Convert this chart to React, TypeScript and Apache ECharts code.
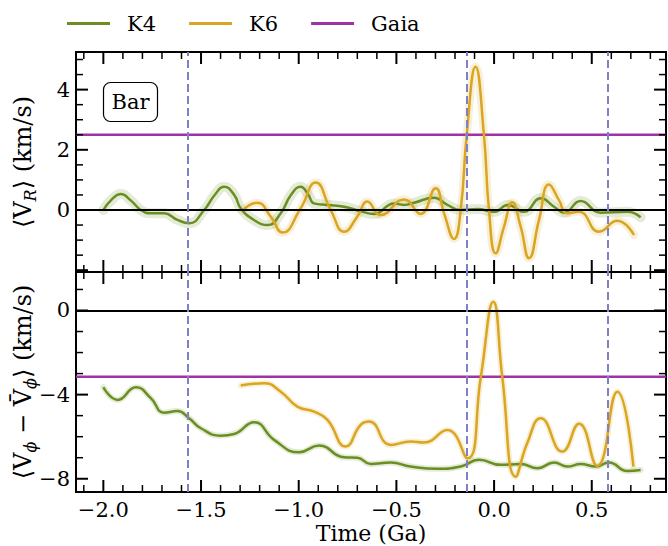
import React, { useEffect, useRef } from "react";
import * as echarts from "echarts";

const FONT = "DejaVu Serif";

const X_MIN = -2.14;
const X_MAX = 0.88;
const Y1_MIN = -2.06;
const Y1_MAX = 5.25;
const Y2_MIN = -8.63;
const Y2_MAX = 1.83;

const X_MAJOR = [-2.0, -1.5, -1.0, -0.5, 0.0, 0.5];
const X_MINOR = [-2.1, -1.9, -1.8, -1.7, -1.6, -1.4, -1.3, -1.2, -1.1, -0.9, -0.8, -0.7, -0.6, -0.4, -0.3, -0.2, -0.1, 0.1, 0.2, 0.3, 0.4, 0.6, 0.7, 0.8];
const Y1_MAJOR = [-2, 0, 2, 4];
const Y1_MINOR = [-1.5, -1, -0.5, 0.5, 1, 1.5, 2.5, 3, 3.5, 4.5, 5];
const Y1_LABELS = [0, 2, 4];
const Y2_MAJOR = [-8, -4, 0];
const Y2_MINOR = [-7, -6, -5, -3, -2, -1, 1];
const Y2_LABELS = [-8, -4, 0];

const GAIA_VR = 2.5;
const GAIA_VPHI = -3.15;
const BAR_EVENTS = [-1.57, -0.145, 0.577];

const K4_VR: [number, number][] = [
  [-2.0, 0.0], [-1.96, 0.33], [-1.91, 0.53], [-1.86, 0.32], [-1.808, 0.0], [-1.757, -0.11],
  [-1.689, -0.11], [-1.621, -0.33], [-1.561, -0.44], [-1.484, 0.0], [-1.43, 0.5], [-1.382, 0.77],
  [-1.33, 0.5], [-1.297, 0.06], [-1.229, -0.33], [-1.16, -0.5], [-1.092, -0.11], [-1.04, 0.5],
  [-0.99, 0.77], [-0.95, 0.5], [-0.922, 0.22], [-0.853, 0.17], [-0.768, 0.11], [-0.683, -0.04],
  [-0.615, -0.13], [-0.512, 0.22], [-0.461, 0.17], [-0.41, 0.24], [-0.307, 0.41], [-0.239, 0.17],
  [-0.171, 0.0], [-0.085, 0.03], [0.0, -0.06], [0.07, 0.17], [0.153, -0.06], [0.239, 0.39],
  [0.307, 0.11], [0.358, -0.09], [0.443, 0.3], [0.545, -0.09], [0.682, -0.06], [0.75, -0.24],
];

const K6_VR: [number, number][] = [
  [-1.288, -0.02], [-1.212, 0.24], [-1.143, -0.22], [-1.083, -0.75], [-0.99, 0.06], [-0.913, 0.91],
  [-0.836, 0.0], [-0.768, -0.72], [-0.7, -0.22], [-0.649, 0.28], [-0.581, -0.17], [-0.461, 0.35],
  [-0.376, -0.13], [-0.299, 0.72], [-0.256, -0.11], [-0.205, -0.96], [-0.171, 0.0], [-0.14, 2.5],
  [-0.095, 4.76], [-0.052, 2.5], [-0.026, 0.0], [0.008, -1.44], [0.051, -0.55], [0.093, 0.26],
  [0.136, -0.55], [0.179, -1.6], [0.23, -0.33], [0.281, 0.85], [0.332, 0.33], [0.375, -0.11],
  [0.435, -0.06], [0.537, -0.72], [0.631, -0.36], [0.716, -0.83],
];

const K4_VPHI: [number, number][] = [
  [-2.0, -3.65], [-1.927, -4.25], [-1.833, -3.65], [-1.757, -4.17], [-1.689, -4.86], [-1.621, -4.78],
  [-1.561, -5.12], [-1.501, -5.6], [-1.399, -5.95], [-1.331, -5.87], [-1.228, -5.31], [-1.126, -6.15],
  [-0.998, -6.74], [-0.896, -6.42], [-0.768, -6.98], [-0.7, -7.0], [-0.632, -7.3], [-0.529, -7.23],
  [-0.427, -7.42], [-0.29, -7.53], [-0.171, -7.42], [-0.077, -7.1], [0.034, -7.34], [0.136, -7.3],
  [0.222, -7.5], [0.307, -7.23], [0.375, -7.42], [0.443, -7.3], [0.52, -7.42], [0.588, -7.23],
  [0.682, -7.63], [0.75, -7.58],
];

const K6_VPHI: [number, number][] = [
  [-1.297, -3.57], [-1.177, -3.46], [-1.092, -3.86], [-1.007, -4.57], [-0.922, -4.81], [-0.853, -5.2],
  [-0.76, -6.47], [-0.683, -5.44], [-0.64, -5.28], [-0.529, -6.39], [-0.427, -6.23], [-0.359, -6.28],
  [-0.239, -5.68], [-0.136, -7.03], [-0.068, -3.17], [-0.004, 0.42], [0.042, -3.17], [0.11, -7.9],
  [0.17, -6.3], [0.239, -5.12], [0.349, -6.71], [0.435, -5.39], [0.528, -7.39], [0.631, -3.86],
  [0.713, -7.42],
];

const C_K4 = "#6b8e23";
const C_K6 = "#daa520";
const C_GAIA = "#9f33a3";
const C_DASH = "#7f7fca";

function fmt(v: number, digits: number) {
  return v.toFixed(digits).replace("-", "\u2212");
}

function xAxis(grid: number, labels: boolean) {
  return {
    type: "value",
    gridIndex: grid,
    position: "bottom",
    min: X_MIN,
    max: X_MAX,
    axisLine: { show: false, onZero: false },
    splitLine: { show: false },
    axisTick: { show: false },
    axisLabel: labels
      ? { show: true, customValues: X_MAJOR, margin: 7, color: "#000", fontSize: 21, fontFamily: FONT, formatter: (v: number) => fmt(v, 1) }
      : { show: false },
  };
}

function yAxis(grid: number, min: number, max: number, labels: number[]) {
  return {
    type: "value",
    gridIndex: grid,
    position: "left",
    min,
    max,
    axisLine: { show: false, onZero: false },
    splitLine: { show: false },
    axisTick: { show: false },
    axisLabel: { show: true, customValues: labels, margin: 6, color: "#000", fontSize: 21, fontFamily: FONT, formatter: (v: number) => fmt(v, 0) },
  };
}

// inward ticks on all four sides, drawn as a custom series over the axes' own scales
function xTicks(gi: number, values: number[], yMin: number, yMax: number, len: number, w: number) {
  return {
    type: "custom",
    name: "xt",
    coordinateSystem: "cartesian2d",
    xAxisIndex: gi,
    yAxisIndex: gi,
    silent: true,
    clip: false,
    z: 20,
    encode: { x: 0, y: 1 },
    data: values.map((v) => [v, (yMin + yMax) / 2]),
    renderItem: (params: any, api: any) => {
      const v = api.value(0);
      const b = api.coord([v, yMin]);
      const t = api.coord([v, yMax]);
      return {
        type: "group",
        children: [
          { type: "line", shape: { x1: b[0], y1: b[1], x2: b[0], y2: b[1] - len }, style: { stroke: "#000", lineWidth: w, fill: null } },
          { type: "line", shape: { x1: t[0], y1: t[1], x2: t[0], y2: t[1] + len }, style: { stroke: "#000", lineWidth: w, fill: null } },
        ],
      };
    },
  };
}

function yTicks(gi: number, values: number[], len: number, w: number) {
  return {
    type: "custom",
    name: "yt",
    coordinateSystem: "cartesian2d",
    xAxisIndex: gi,
    yAxisIndex: gi,
    silent: true,
    clip: false,
    z: 20,
    encode: { x: 0, y: 1 },
    data: values.map((v) => [(X_MIN + X_MAX) / 2, v]),
    renderItem: (params: any, api: any) => {
      const v = api.value(1);
      const l = api.coord([X_MIN, v]);
      const r = api.coord([X_MAX, v]);
      return {
        type: "group",
        children: [
          { type: "line", shape: { x1: l[0], y1: l[1], x2: l[0] + len, y2: l[1] }, style: { stroke: "#000", lineWidth: w, fill: null } },
          { type: "line", shape: { x1: r[0], y1: r[1], x2: r[0] - len, y2: r[1] }, style: { stroke: "#000", lineWidth: w, fill: null } },
        ],
      };
    },
  };
}

function lineSeries(name: string, data: [number, number][], color: string, gi: number) {
  return {
    name, type: "line", data, xAxisIndex: gi, yAxisIndex: gi, smooth: 0.5,
    showSymbol: false, symbol: "none", z: 4,
    lineStyle: { color, width: 2.5 }, itemStyle: { color },
  };
}

function bandSeries(name: string, data: [number, number][], color: string, gi: number, width: number) {
  return {
    name, type: "line", data, xAxisIndex: gi, yAxisIndex: gi, smooth: 0.5,
    showSymbol: false, symbol: "none", silent: true, z: 2,
    lineStyle: { color, width, opacity: 0.18, cap: "round" }, itemStyle: { color },
  };
}

function refSeries(gi: number) {
  return {
    name: "ref" + gi, type: "line", data: [], xAxisIndex: gi, yAxisIndex: gi, silent: true, z: 1,
    markLine: {
      silent: true, symbol: "none", label: { show: false }, animation: false,
      data: [
        { yAxis: 0, lineStyle: { color: "#000", width: 2, type: "solid" } },
        ...BAR_EVENTS.map((x) => ({ xAxis: x, lineStyle: { color: C_DASH, width: 2, type: [8, 4] } })),
      ],
    },
  };
}

export default function App() {
  const ref = useRef<HTMLDivElement>(null);
  useEffect(() => {
    if (!ref.current) return;
    const chart = echarts.init(ref.current, null, { renderer: "svg" });
    const option = {
      animation: false,
      backgroundColor: "#fff",
      textStyle: { fontFamily: FONT },
      legend: {
        data: ["K4", "K6", "Gaia"],
        left: 62,
        top: 8,
        icon: "rect",
        itemWidth: 43,
        itemHeight: 3,
        itemGap: 33,
        textStyle: { fontSize: 21, fontFamily: FONT, color: "#000", padding: [0, 0, 0, 12] },
      },
      grid: [
        { left: 76, top: 52, width: 590, height: 220, show: true, borderColor: "#000", borderWidth: 2, backgroundColor: "rgba(0,0,0,0)" },
        { left: 76, top: 272, width: 590, height: 220, show: true, borderColor: "#000", borderWidth: 2, backgroundColor: "rgba(0,0,0,0)" },
      ],
      xAxis: [xAxis(0, false), xAxis(1, true)],
      yAxis: [yAxis(0, Y1_MIN, Y1_MAX, Y1_LABELS), yAxis(1, Y2_MIN, Y2_MAX, Y2_LABELS)],
      series: [
        refSeries(0),
        refSeries(1),
        {
          name: "Gaia", type: "line", xAxisIndex: 0, yAxisIndex: 0, z: 3, showSymbol: false, symbol: "none",
          data: [[X_MIN, GAIA_VR], [X_MAX, GAIA_VR]], lineStyle: { color: C_GAIA, width: 2.5 }, itemStyle: { color: C_GAIA },
        },
        {
          name: "Gaia", type: "line", xAxisIndex: 1, yAxisIndex: 1, z: 3, showSymbol: false, symbol: "none",
          data: [[X_MIN, GAIA_VPHI], [X_MAX, GAIA_VPHI]], lineStyle: { color: C_GAIA, width: 2.5 }, itemStyle: { color: C_GAIA },
        },
        bandSeries("K4 band", K4_VR, C_K4, 0, 10),
        bandSeries("K6 band", K6_VR, C_K6, 0, 8),
        bandSeries("K4 band", K4_VPHI, C_K4, 1, 6),
        bandSeries("K6 band", K6_VPHI, C_K6, 1, 6),
        lineSeries("K4", K4_VR, C_K4, 0),
        lineSeries("K6", K6_VR, C_K6, 0),
        lineSeries("K4", K4_VPHI, C_K4, 1),
        lineSeries("K6", K6_VPHI, C_K6, 1),
        xTicks(0, X_MAJOR, Y1_MIN, Y1_MAX, 12, 2),
        xTicks(0, X_MINOR, Y1_MIN, Y1_MAX, 7, 1.5),
        yTicks(0, Y1_MAJOR, 12, 2),
        yTicks(0, Y1_MINOR, 7, 1.5),
        xTicks(1, X_MAJOR, Y2_MIN, Y2_MAX, 12, 2),
        xTicks(1, X_MINOR, Y2_MIN, Y2_MAX, 7, 1.5),
        yTicks(1, Y2_MAJOR, 12, 2),
        yTicks(1, Y2_MINOR, 7, 1.5),
      ],
      graphic: [
        {
          type: "rect", z: 10,
          shape: { x: 103.5, y: 82.5, width: 54, height: 39, r: 7 },
          style: { fill: "#fff", stroke: "#000", lineWidth: 1.2 },
        },
        {
          type: "text", z: 11, x: 130.5, y: 102,
          style: { text: "Bar", fontSize: 21, fontFamily: FONT, fill: "#000", align: "center", verticalAlign: "middle" },
        },
        {
          type: "text", x: 371, y: 533,
          style: { text: "Time (Ga)", fontSize: 22, fontFamily: FONT, fill: "#000", align: "center", verticalAlign: "middle" },
        },
        {
          type: "text", x: 23, y: 162, rotation: Math.PI / 2,
          style: {
            text: "{a|\u27E8V}{s|R}{a|\u27E9 (km/s)}",
            align: "center", verticalAlign: "middle", fill: "#000",
            rich: {
              a: { fontSize: 24, fontFamily: FONT, lineHeight: 30, fill: "#000" },
              s: { fontSize: 16, fontFamily: FONT, fontStyle: "italic", lineHeight: 22, verticalAlign: "bottom", fill: "#000" },
            },
          },
        },
        {
          type: "text", x: 23, y: 382, rotation: Math.PI / 2,
          style: {
            text: "{a|\u27E8V}{s|\u03D5}{a| \u2212 V\u0304}{s|\u03D5}{a|\u27E9 (km/s)}",
            align: "center", verticalAlign: "middle", fill: "#000",
            rich: {
              a: { fontSize: 24, fontFamily: FONT, lineHeight: 30, fill: "#000" },
              s: { fontSize: 16, fontFamily: FONT, fontStyle: "italic", lineHeight: 22, verticalAlign: "bottom", fill: "#000" },
            },
          },
        },
      ],
    };
    chart.setOption(option as any);
    return () => chart.dispose();
  }, []);
  return <div ref={ref} style={{ position: "fixed", left: 0, top: 0, width: 668, height: 546 }} />;
}
